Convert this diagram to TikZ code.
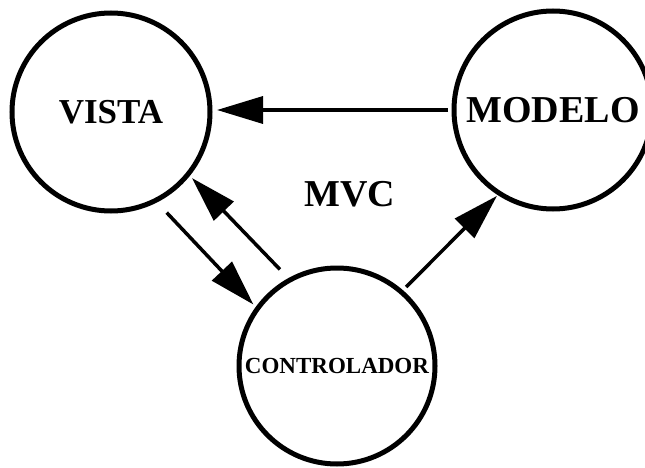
\documentclass[tikz,border=0pt]{standalone}
\usepackage{fontspec}
\setmainfont{Liberation Serif}
\usetikzlibrary{arrows.meta}
\tikzset{
  bubble/.style={circle, draw=black, line width=5pt, inner sep=0pt, font=\bfseries},
  arr/.style={line width=3.5pt, -{Triangle[length=46pt, width=27pt]}},
  title/.style={font=\bfseries\fontsize{38}{44}\selectfont}
}
\begin{document}
\begin{tikzpicture}[x=1pt, y=-1pt]
\useasboundingbox (0,0) rectangle (645,468);
\node[bubble, minimum size=198pt, font=\bfseries\fontsize{35}{42}\selectfont] (vista) at (111,112) {VISTA};
\node[bubble, minimum size=198pt, font=\bfseries\fontsize{38}{44}\selectfont] (modelo) at (553,110) {MODELO};
\node[bubble, minimum size=196pt, font=\bfseries\fontsize{23}{28}\selectfont] (ctrl) at (337,366) {CONTROLADOR};
\node[title] (mvc) at (350,194) {MVC};
\draw[arr, shorten <=3.5pt, shorten >=4.5pt] (modelo.west) -- (vista.east |- modelo.west);
\draw[arr, shorten <=12pt, shorten >=3pt] (ctrl.119.3) -- (vista.-39.2);
\draw[arr, shorten <=14pt, shorten >=3.3pt] (vista.-63.2) -- (ctrl.144);
\draw[arr, shorten <=4.5pt, shorten >=1pt] (ctrl.49.6) -- (modelo.-123.1);
\end{tikzpicture}
\end{document}
